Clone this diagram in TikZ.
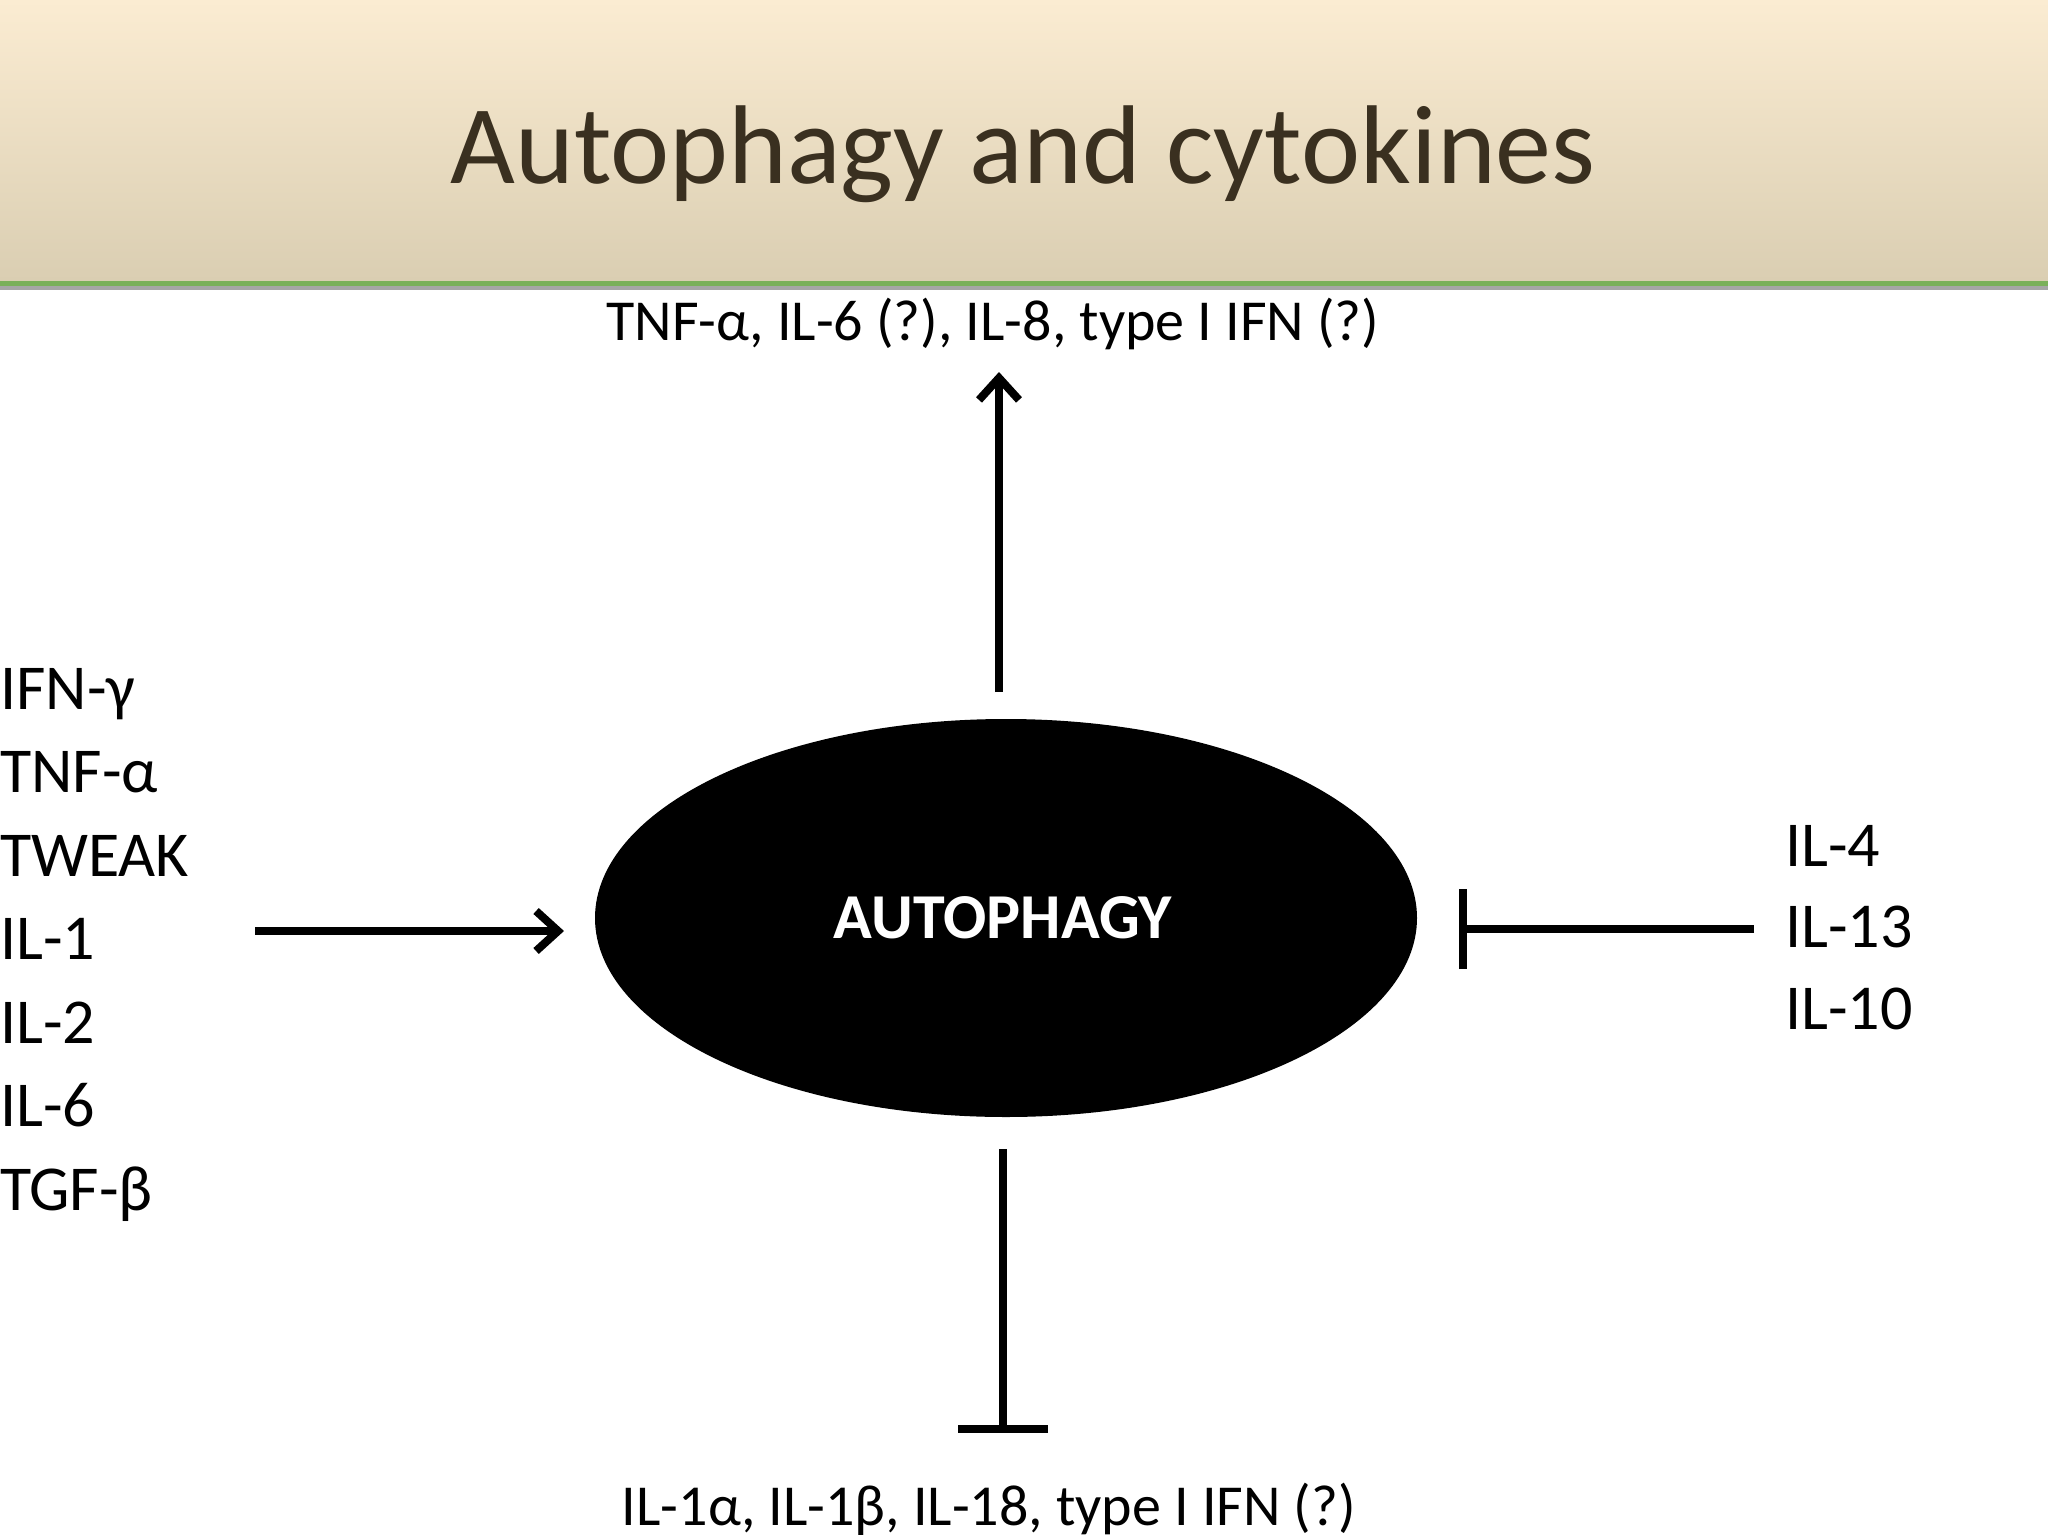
\documentclass[tikz,border=0pt]{standalone}
\usepackage{fontspec}
\setmainfont{Carlito}
\usetikzlibrary{arrows.meta,shapes.geometric}
\definecolor{htop}{RGB}{251,236,210}
\definecolor{hbot}{RGB}{218,206,178}
\definecolor{hgreen}{RGB}{122,176,90}
\definecolor{htext}{RGB}{58,48,32}
\begin{document}
\begin{tikzpicture}[x=1pt,y=-1pt,
  lab/.style={anchor=base west,inner sep=0pt,font=\fontsize{64}{70}\selectfont},
  ctr/.style={anchor=base,inner sep=0pt,font=\fontsize{58}{64}\selectfont},
  conn/.style={line width=8pt}]
\useasboundingbox (0,0) rectangle (2048,1536);
\fill[white] (0,0) rectangle (2048,1536);
% header
\shade[top color=htop, bottom color=hbot] (0,0) rectangle (2048,281);
\fill[hgreen] (0,281) rectangle (2048,286);
\fill[gray!70] (0,286) rectangle (2048,290);
\node[anchor=base,inner sep=0pt,text=htext,font=\fontsize{112}{120}\selectfont] (title) at (1023,183) {Autophagy and cytokines};
% center
\node[ellipse,fill=black,minimum width=822pt,minimum height=398pt,inner sep=0pt] (auto) at (1006,918) {};
\node[text=white,inner sep=0pt,font=\fontsize{64}{70}\selectfont\bfseries] (autot) at (1003,918) {AUTOPHAGY};
% top
\node[ctr] (top) at (993,340) {TNF-α, IL-6 (?), IL-8, type I IFN (?)};
\coordinate (upS) at (999,692);
\coordinate (upE) at (999,372);
\draw[conn,-{Straight Barb[length=22pt,width=40pt,line width=8pt]}] (upS) -- (upE);
% left
\foreach \t [count=\i] in {IFN-γ,TNF-α,TWEAK,IL-1,IL-2,IL-6,TGF-β}
  \node[lab] (l\i) at (0,{709+(\i-1)*83.5}) {\t};
\coordinate (lS) at (255,931);
\coordinate (lE) at (564,931);
\draw[conn,-{Straight Barb[length=22pt,width=40pt,line width=8pt]}] (lS) -- (lE);
% right
\begin{scope}
\clip (0,0) rectangle (1932,1536);
\node[lab] (r1) at (1785,866) {IL-4};
\node[lab] (r2) at (1785,947) {IL-13};
\node[lab] (r3) at (1785,1029) {IL-10};
\end{scope}
\coordinate (rS) at (1754,929);
\coordinate (rE) at (1459,929);
\draw[conn,-{Bar[width=80pt,line width=8pt]}] (rS) -- (rE);
% bottom
\coordinate (bS) at (1003,1149);
\coordinate (bE) at (1003,1433);
\draw[conn,-{Bar[width=90pt,line width=8pt]}] (bS) -- (bE);
\node[ctr] (bot) at (989,1525) {IL-1α, IL-1β, IL-18, type I IFN (?)};
\end{tikzpicture}
\end{document}
